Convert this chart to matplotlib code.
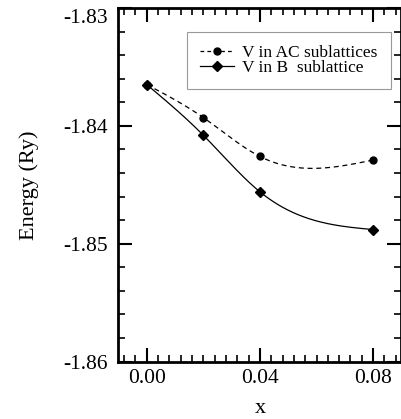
"""Energy vs V concentration for the two sublattice sites"""

import matplotlib.pyplot as plt
import matplotlib.transforms as mtransforms
import numpy as np
from matplotlib.ticker import MultipleLocator

plt.rcParams["font.family"] = ["Liberation Serif", "DejaVu Serif"]
plt.rcParams["axes.unicode_minus"] = False

# data
x_conc = [0.00, 0.02, 0.04, 0.08]
e_ac = [-1.8365, -1.8393, -1.8426, -1.8429]  # V in AC sublattices
e_b = [-1.8365, -1.8408, -1.8456, -1.8488]  # V in B sublattice


def natural_spline(xk, yk, npts=200):
    """Natural cubic spline through the knots, for a smooth curve."""
    xk = np.asarray(xk, float)
    yk = np.asarray(yk, float)
    n = len(xk)
    h = np.diff(xk)
    a = np.zeros((n, n))
    r = np.zeros(n)
    a[0, 0] = a[-1, -1] = 1.0
    for i in range(1, n - 1):
        a[i, i - 1] = h[i - 1]
        a[i, i] = 2 * (h[i - 1] + h[i])
        a[i, i + 1] = h[i]
        r[i] = 3 * ((yk[i + 1] - yk[i]) / h[i] - (yk[i] - yk[i - 1]) / h[i - 1])
    c = np.linalg.solve(a, r)
    xs = np.linspace(xk[0], xk[-1], npts)
    idx = np.clip(np.searchsorted(xk, xs) - 1, 0, n - 2)
    dx = xs - xk[idx]
    hi = h[idx]
    b = (yk[idx + 1] - yk[idx]) / hi - hi * (2 * c[idx] + c[idx + 1]) / 3
    d = (c[idx + 1] - c[idx]) / (3 * hi)
    ys = yk[idx] + b * dx + c[idx] * dx**2 + d * dx**3
    return xs, ys


fig = plt.figure(figsize=(4.01, 4.19), dpi=100)
ax = fig.add_axes([0.2955, 0.137, 0.7055, 0.844])

xs, ys = natural_spline(x_conc, e_ac)
ax.plot(xs, ys, "--", color="k", lw=0.9, dashes=(4, 3))
ax.plot(x_conc, e_ac, "o", color="k", ms=5)
xs, ys = natural_spline(x_conc, e_b)
ax.plot(xs, ys, "-", color="k", lw=0.9)
ax.plot(x_conc, e_b, "D", color="k", ms=5.5)

# legend handles
h_ac, = ax.plot([], [], "--o", color="k", lw=0.9, ms=5, dashes=(3, 2.5),
                label="V in AC sublattices")
h_b, = ax.plot([], [], "-D", color="k", lw=0.9, ms=5.5, label="V in B  sublattice")
leg = ax.legend(
    handles=[h_ac, h_b],
    loc="upper right",
    bbox_to_anchor=(0.962, 0.933),
    borderaxespad=0,
    fontsize=12.5,
    frameon=True,
    fancybox=False,
    edgecolor="0.5",
    handlelength=2.0,
    borderpad=0.75,
    labelspacing=-0.05,
    handletextpad=0.45,
)
leg.get_frame().set_linewidth(0.8)

ax.set_xlim(-0.01, 0.09)
ax.set_ylim(-1.86, -1.83)
ax.xaxis.set_minor_locator(MultipleLocator(0.004))
ax.yaxis.set_minor_locator(MultipleLocator(0.002))
ax.set_xticks([0.0, 0.04, 0.08])
ax.set_xticklabels(["0.00", "0.04", "0.08"])
ax.set_yticks([-1.86, -1.85, -1.84, -1.83])
ax.set_yticklabels(["-1.86", "-1.85", "-1.84", "-1.83"])

ax.tick_params(which="both", direction="in", top=True, right=True, width=1.5, labelsize=15.5)
ax.tick_params(which="major", length=10)
ax.tick_params(which="minor", length=5, width=1.2)
ax.tick_params(axis="y", pad=8)
ax.tick_params(axis="x", pad=5)
for sp in ax.spines.values():
    sp.set_linewidth(2)

# keep the top y label inside the figure
top_lbl = ax.get_yticklabels()[-1]
top_lbl.set_transform(top_lbl.get_transform()
                      + mtransforms.ScaledTranslation(0, -6 / 72, fig.dpi_scale_trans))

ax.set_xlabel("x", fontsize=16, labelpad=8)
ax.set_ylabel("Energy (Ry)", fontsize=16, labelpad=17)

fig.savefig("out.png", dpi=100)
